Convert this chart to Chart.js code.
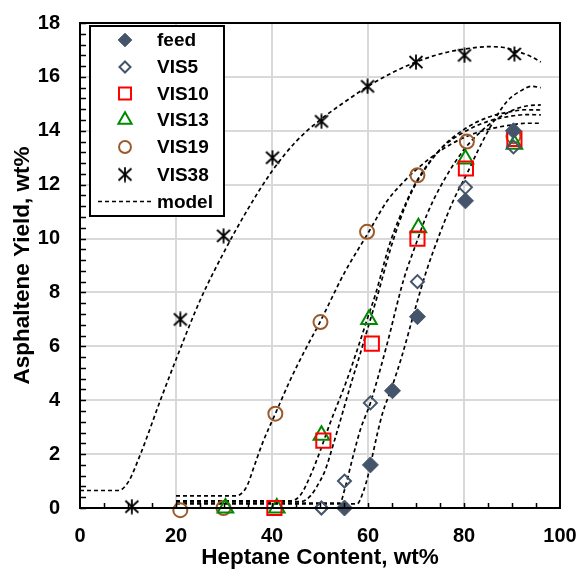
<!DOCTYPE html>
<html lang="en">
<head>
  <meta charset="UTF-8" />
  <title>Asphaltene Yield</title>
  <style>
    html, body { margin: 0; padding: 0; background: #fff; }
    #wrap { width: 582px; height: 569px; }
  </style>
</head>
<body>
<div id="wrap"><canvas id="chart" width="582" height="569"></canvas></div>
<script src="https://cdn.jsdelivr.net/npm/chart.js"></script>
<script type="text/javascript">
  const feedX = [55.1, 60.5, 65.1, 70.3, 80.3, 90.3];
  const feedY = [0, 1.6, 4.35, 7.1, 11.4, 14.0];
  const vis5X = [50.3, 55.1, 60.5, 70.3, 80.3, 90.3];
  const vis5Y = [0, 1.0, 3.9, 8.4, 11.9, 13.4];
  const vis10X = [40.5, 50.7, 60.8, 70.3, 80.4, 90.5];
  const vis10Y = [0, 2.5, 6.1, 10.0, 12.6, 13.7];
  const vis13X = [30.3, 41.0, 50.3, 60.2, 70.5, 80.3, 90.5];
  const vis13Y = [0, 0, 2.7, 7.0, 10.4, 12.95, 13.5];
  const vis19X = [20.9, 29.9, 40.7, 50.1, 59.8, 70.3, 80.6, 90.3];
  const vis19Y = [-0.08, 0, 3.5, 6.9, 10.25, 12.35, 13.6, 13.8];
  const vis38X = [10.8, 20.9, 29.9, 40.1, 50.3, 59.9, 70.0, 80.1, 90.5];
  const vis38Y = [0.05, 7.0, 10.1, 13.0, 14.35, 15.65, 16.55, 16.8, 16.85];

  // Model curves
  const m38X = [0, 8, 10, 12.6, 16.75, 20.2, 25, 30, 35, 40, 45, 50, 55, 60, 65, 70, 75, 80, 85, 88, 91, 94, 96];
  const m38Y = [0.65, 0.65, 0.95, 2.0, 4.0, 5.6, 7.7, 9.5, 11.1, 12.5, 13.6, 14.4, 15.05, 15.65, 16.15, 16.55, 16.85, 17.03, 17.12, 17.1, 16.95, 16.75, 16.55];
  const m19X = [20, 32.5, 34, 35, 36, 38, 40.7, 43.8, 47, 50, 55, 60, 64, 67.4, 70, 75, 80, 85, 90, 93, 96];
  const m19Y = [0.45, 0.45, 0.6, 0.9, 1.4, 2.4, 3.5, 4.75, 5.9, 6.9, 8.7, 10.2, 11.4, 12.1, 12.55, 13.25, 13.75, 14.05, 14.22, 14.28, 14.28];
  const m13X = [20, 44, 46, 48, 50, 52, 55.6, 58, 60, 61.5, 64.7, 68.1, 70.2, 75, 80, 85, 90, 93, 96];
  const m13Y = [0.27, 0.27, 0.5, 1.2, 2.1, 3.1, 4.75, 6.0, 7.1, 7.9, 9.9, 11.4, 12.15, 13.3, 13.95, 14.35, 14.55, 14.6, 14.59];
  const m10X = [20, 46, 48, 50, 51.1, 53, 56.7, 58, 60, 62, 65, 68, 70.2, 75, 80, 85, 90, 93, 96];
  const m10Y = [0.24, 0.24, 0.45, 1.0, 1.41, 2.5, 4.75, 5.5, 6.7, 7.9, 9.8, 11.3, 12.1, 13.3, 14.05, 14.5, 14.72, 14.78, 14.77];
  const m5X = [20, 54.2, 55, 55.6, 57, 58.4, 60.5, 62, 64, 67.4, 70, 72.3, 75, 80, 85, 90, 93, 96];
  const m5Y = [0.18, 0.18, 0.6, 1.0, 2.0, 2.9, 3.9, 4.8, 6.1, 8.46, 9.8, 10.9, 11.9, 13.3, 14.2, 14.75, 14.92, 14.96];
  const mFeedX = [20, 57.7, 59, 60, 61, 62, 63, 65, 67, 70, 72, 75, 78, 80.6, 83, 86, 89, 92, 94, 96];
  const mFeedY = [0.15, 0.15, 0.6, 1.2, 2.0, 2.8, 3.5, 4.5, 5.6, 7.5, 8.7, 10.2, 11.5, 12.4, 13.3, 14.3, 15.1, 15.5, 15.65, 15.6];

  const xTicks = [0, 20, 40, 60, 80, 100];
  const yTicks = [0, 2, 4, 6, 8, 10, 12, 14, 16, 18];

  const FONT = "'Liberation Sans', Arial, sans-serif";
  const slate = '#44546A';

  function pts(xs, ys) {
    return xs.map((x, i) => ({x: x, y: ys[i]}));
  }

  // asterisk marker (X with a vertical bar)
  function makeStar() {
    const c = document.createElement('canvas');
    c.width = 16; c.height = 16;
    const g = c.getContext('2d');
    g.strokeStyle = '#000';
    g.lineWidth = 1.8;
    g.beginPath();
    g.moveTo(1.5, 2); g.lineTo(14.5, 14);
    g.moveTo(14.5, 2); g.lineTo(1.5, 14);
    g.moveTo(8, 0.5); g.lineTo(8, 15.5);
    g.stroke();
    return c;
  }
  const star = makeStar();

  function marker(label, xs, ys, style) {
    return Object.assign({
      label: label,
      data: pts(xs, ys),
      showLine: false,
      clip: false,
      order: 0
    }, style);
  }

  function model(xs, ys, label) {
    return {
      label: label,
      data: pts(xs, ys),
      showLine: true,
      borderColor: '#000',
      borderWidth: 1.7,
      borderDash: [4, 3],
      pointRadius: 0,
      cubicInterpolationMode: 'monotone',
      order: 1
    };
  }

  const markers = [
    marker('feed', feedX, feedY, {pointStyle: 'rectRot', pointRadius: 8, backgroundColor: slate, borderColor: slate, borderWidth: 1}),
    marker('VIS5', vis5X, vis5Y, {pointStyle: 'rectRot', pointRadius: 6.5, backgroundColor: 'rgba(0,0,0,0)', borderColor: slate, borderWidth: 2}),
    marker('VIS10', vis10X, vis10Y, {pointStyle: 'rect', pointRadius: 10, backgroundColor: 'rgba(0,0,0,0)', borderColor: '#ff0000', borderWidth: 2}),
    marker('VIS13', vis13X, vis13Y, {pointStyle: 'triangle', pointRadius: 9, backgroundColor: 'rgba(0,0,0,0)', borderColor: '#008a00', borderWidth: 2}),
    marker('VIS19', vis19X, vis19Y, {pointStyle: 'circle', pointRadius: 7, backgroundColor: 'rgba(0,0,0,0)', borderColor: '#9c5a2a', borderWidth: 2}),
    marker('VIS38', vis38X, vis38Y, {pointStyle: star, pointRadius: 8})
  ];

  const models = [
    model(mFeedX, mFeedY, 'model'),
    model(m5X, m5Y, 'model'),
    model(m10X, m10Y, 'model'),
    model(m13X, m13Y, 'model'),
    model(m19X, m19Y, 'model'),
    model(m38X, m38Y, 'model')
  ];

  function noPad(s) {
    s.paddingTop = 0; s.paddingBottom = 0;
    s.paddingLeft = 0; s.paddingRight = 0;
  }

  // frame, inner minor ticks and the boxed legend
  const decor = {
    id: 'decor',
    afterDraw(chart) {
      const ctx = chart.ctx;
      const a = chart.chartArea;
      const xs = chart.scales.x, ys = chart.scales.y;
      ctx.save();
      ctx.strokeStyle = '#000';
      ctx.lineWidth = 1.5;
      ctx.beginPath();
      for (let v = 0; v <= 18.001; v += 0.4) {
        const py = Math.round(ys.getPixelForValue(v)) + 0.5;
        ctx.moveTo(a.left, py);
        ctx.lineTo(a.left + 6, py);
      }
      for (let v = 5; v < 100; v += 5) {
        const px = Math.round(xs.getPixelForValue(v)) + 0.5;
        ctx.moveTo(px, a.bottom);
        ctx.lineTo(px, a.bottom - 5);
      }
      ctx.stroke();
      ctx.lineWidth = 2;
      ctx.strokeRect(a.left, a.top, a.right - a.left, a.bottom - a.top);

      // legend
      const box = {x: 90, y: 26, w: 134, h: 190};
      ctx.fillStyle = '#fff';
      ctx.fillRect(box.x, box.y, box.w, box.h);
      ctx.lineWidth = 2;
      ctx.strokeRect(box.x, box.y, box.w, box.h);
      ctx.font = 'bold 19px ' + FONT;
      ctx.textBaseline = 'middle';
      ctx.textAlign = 'left';
      const rowY = [40, 67, 93.5, 120, 147, 174.5, 201.5];
      markers.forEach((ds, i) => {
        ctx.save();
        ctx.fillStyle = ds.backgroundColor || '#000';
        ctx.strokeStyle = ds.borderColor || '#000';
        ctx.lineWidth = ds.borderWidth || 1;
        Chart.helpers.drawPoint(ctx, {
          pointStyle: ds.pointStyle,
          radius: ds.pointRadius * 0.85,
          rotation: 0,
          borderWidth: ds.borderWidth || 0
        }, 125, rowY[i]);
        ctx.restore();
        ctx.fillStyle = '#000';
        ctx.fillText(ds.label, 157, rowY[i] + 1);
      });
      ctx.setLineDash([4, 3]);
      ctx.lineWidth = 1.7;
      ctx.beginPath();
      ctx.moveTo(98, rowY[6]);
      ctx.lineTo(152, rowY[6]);
      ctx.stroke();
      ctx.setLineDash([]);
      ctx.fillText('model', 157, rowY[6] + 1);
      ctx.restore();
    }
  };

  new Chart(document.getElementById('chart'), {
    type: 'scatter',
    data: {datasets: markers.concat(models)},
    options: {
      responsive: false,
      animation: false,
      layout: {autoPadding: false, padding: {left: 0, right: 22, top: 23, bottom: 0}},
      plugins: {legend: {display: false}, tooltip: {enabled: false}},
      scales: {
        x: {
          type: 'linear',
          min: 0, max: 100,
          afterBuildTicks: s => { s.ticks = xTicks.map(v => ({value: v})); },
          afterFit: s => { s.height = 61; noPad(s); },
          grid: {color: '#d9d9d9', lineWidth: 2, drawTicks: false},
          border: {color: '#000', width: 2},
          ticks: {color: '#000', padding: 16, font: {family: FONT, size: 20, weight: 'bold'}},
          title: {display: true, text: 'Heptane Content, wt%', color: '#000', padding: 0,
                  font: {family: FONT, size: 22.5, weight: 'bold', lineHeight: 1}}
        },
        y: {
          type: 'linear',
          min: 0, max: 18,
          afterBuildTicks: s => { s.ticks = yTicks.map(v => ({value: v})); },
          afterFit: s => { s.width = 80; noPad(s); },
          grid: {color: '#d9d9d9', lineWidth: 2, drawTicks: false},
          border: {color: '#000', width: 2},
          ticks: {color: '#000', padding: 20, font: {family: FONT, size: 20, weight: 'bold'}},
          title: {display: true, text: 'Asphaltene Yield, wt%', color: '#000', padding: {top: 9, bottom: 0},
                  font: {family: FONT, size: 22.5, weight: 'bold'}}
        }
      }
    },
    plugins: [decor]
  });
</script>
</body>
</html>
